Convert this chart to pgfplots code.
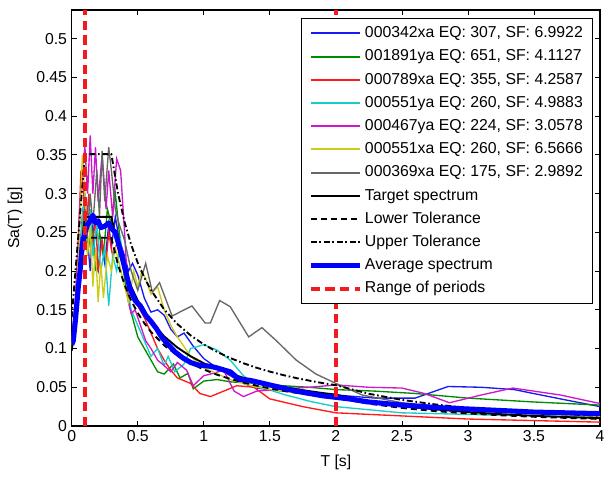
\documentclass[border=0pt]{standalone}
\usepackage{pgfplots}
\pgfplotsset{compat=1.18}
\usepackage{fontspec}
\setmainfont{Liberation Sans}
\definecolor{recblue}{rgb}{0.1,0.1,0.95}
\definecolor{recgreen}{rgb}{0,0.55,0}
\definecolor{recred}{rgb}{1,0.1,0.1}
\definecolor{reccyan}{rgb}{0.1,0.8,0.8}
\definecolor{recmag}{rgb}{0.8,0.1,0.8}
\definecolor{recyel}{rgb}{0.8,0.8,0.1}
\definecolor{recgrey}{rgb}{0.4,0.4,0.4}
\definecolor{rangered}{rgb}{0.95,0.1,0.12}
\pgfplotsset{thinrec/.style={line width=1pt,
  legend image code/.code={\draw[##1, line width=1.5pt] (0pt,0pt) -- (36.75pt,0pt);}}}
\begin{document}
\begin{tikzpicture}
\begin{axis}[
  scale only axis, width=396.2pt, height=312pt,
  xmin=0, xmax=4, ymin=0, ymax=0.537,
  xtick={0,0.5,1,1.5,2,2.5,3,3.5,4},
  ytick={0,0.05,0.1,0.15,0.2,0.25,0.3,0.35,0.4,0.45,0.5},
  /pgf/number format/.cd, fixed, precision=2, assume math mode=true, /pgfplots/.cd,
  tick label style={font=\fontsize{11.85}{14}\selectfont},
  major tick length=4pt,
  tick style={black, line width=0.6pt},
  axis line style={line width=0.8pt},
  xlabel={T [s]}, ylabel={Sa(T) [g]},
  every axis x label/.style={at={(axis description cs:0.5,-0.0865)}, anchor=center, font=\fontsize{11.85}{14}\selectfont},
  every axis y label/.style={at={(axis description cs:-0.1073,0.5)}, anchor=center, rotate=90, font=\fontsize{11.85}{14}\selectfont},
  legend image code/.code={\draw[#1] (0pt,0pt) -- (36.75pt,0pt);},
  legend cell align=left,
  legend style={at={(axis description cs:0.9867,0.9808)}, anchor=north east,
    draw=black, line width=0.6pt, fill=white, inner xsep=5.3pt, inner ysep=2.5pt,
    font=\fontsize{11.85}{14}\selectfont,
    nodes={inner xsep=2pt, inner ysep=2.95pt, text height=9pt, text depth=2.5pt},
    row sep=0pt},
]
% 000342xa
\addplot[color=recblue, thinrec] coordinates {
(0,0.108)(0.03,0.15)(0.06,0.22)(0.08,0.27)(0.1,0.3)(0.12,0.24)(0.14,0.2)(0.16,0.26)(0.18,0.21)(0.2,0.2)(0.22,0.24)(0.25,0.21)(0.28,0.26)(0.3,0.23)(0.33,0.27)(0.36,0.24)(0.4,0.22)(0.43,0.2)(0.46,0.21)(0.5,0.195)(0.55,0.165)(0.6,0.147)(0.65,0.15)(0.7,0.143)(0.75,0.125)(0.8,0.115)(0.85,0.12)(0.92,0.103)(1.0,0.087)(1.1,0.075)(1.2,0.065)(1.3,0.055)(1.4,0.049)(1.6,0.045)(1.8,0.042)(2.0,0.04)(2.3,0.036)(2.6,0.036)(2.85,0.051)(3.1,0.05)(3.35,0.047)(3.7,0.035)(4.0,0.025)};
\addlegendentry{000342xa EQ: 307, SF: 6.9922}
% 001891ya
\addplot[color=recgreen, thinrec] coordinates {
(0,0.11)(0.03,0.14)(0.06,0.2)(0.08,0.25)(0.1,0.29)(0.12,0.22)(0.15,0.26)(0.18,0.2)(0.21,0.25)(0.24,0.22)(0.27,0.28)(0.3,0.26)(0.33,0.3)(0.36,0.25)(0.4,0.19)(0.43,0.16)(0.46,0.14)(0.5,0.115)(0.55,0.1)(0.6,0.085)(0.65,0.07)(0.7,0.067)(0.77,0.08)(0.82,0.062)(0.88,0.068)(0.92,0.048)(1.0,0.058)(1.1,0.06)(1.2,0.057)(1.4,0.055)(1.6,0.052)(1.8,0.05)(2.0,0.047)(2.3,0.045)(2.6,0.042)(3.0,0.036)(3.5,0.031)(4.0,0.027)};
\addlegendentry{001891ya EQ: 651, SF: 4.1127}
% 000789xa
\addplot[color=recred, thinrec] coordinates {
(0,0.108)(0.03,0.16)(0.05,0.24)(0.07,0.33)(0.09,0.3)(0.11,0.26)(0.13,0.3)(0.15,0.22)(0.18,0.27)(0.2,0.2)(0.23,0.24)(0.26,0.21)(0.28,0.25)(0.31,0.22)(0.35,0.24)(0.4,0.2)(0.45,0.17)(0.5,0.155)(0.55,0.14)(0.6,0.12)(0.65,0.1)(0.7,0.085)(0.75,0.072)(0.8,0.062)(0.9,0.055)(0.97,0.042)(1.05,0.038)(1.15,0.045)(1.25,0.052)(1.38,0.05)(1.5,0.035)(1.75,0.025)(2.0,0.017)(2.5,0.013)(3.0,0.009)(3.5,0.007)(4.0,0.005)};
\addlegendentry{000789xa EQ: 355, SF: 4.2587}
% 000551ya
\addplot[color=reccyan, thinrec] coordinates {
(0,0.105)(0.03,0.13)(0.06,0.2)(0.08,0.27)(0.1,0.3)(0.12,0.25)(0.14,0.28)(0.16,0.22)(0.19,0.26)(0.22,0.2)(0.25,0.23)(0.28,0.155)(0.31,0.22)(0.34,0.2)(0.37,0.24)(0.4,0.2)(0.45,0.15)(0.5,0.13)(0.55,0.11)(0.6,0.09)(0.65,0.1)(0.7,0.078)(0.73,0.09)(0.78,0.07)(0.85,0.08)(0.9,0.1)(1.0,0.105)(1.1,0.098)(1.2,0.085)(1.3,0.065)(1.4,0.052)(1.6,0.041)(1.8,0.032)(2.0,0.025)(2.5,0.017)(3.0,0.015)(3.5,0.013)(4.0,0.012)};
\addlegendentry{000551ya EQ: 260, SF: 4.9883}
% 000467ya
\addplot[color=recmag, thinrec] coordinates {
(0,0.11)(0.03,0.17)(0.06,0.28)(0.08,0.33)(0.1,0.36)(0.12,0.3)(0.14,0.375)(0.16,0.3)(0.18,0.36)(0.2,0.29)(0.23,0.35)(0.26,0.28)(0.28,0.33)(0.31,0.27)(0.34,0.345)(0.37,0.33)(0.4,0.25)(0.43,0.16)(0.45,0.145)(0.48,0.15)(0.52,0.13)(0.56,0.11)(0.6,0.1)(0.65,0.085)(0.7,0.078)(0.75,0.07)(0.8,0.082)(0.87,0.072)(0.92,0.052)(1.0,0.065)(1.05,0.067)(1.15,0.072)(1.23,0.045)(1.3,0.038)(1.4,0.045)(1.6,0.048)(1.8,0.05)(2.0,0.053)(2.25,0.05)(2.5,0.049)(2.67,0.042)(2.86,0.03)(3.1,0.04)(3.34,0.049)(3.7,0.04)(4.0,0.029)};
\addlegendentry{000467ya EQ: 224, SF: 3.0578}
% 000551xa
\addplot[color=recyel, thinrec] coordinates {
(0,0.1)(0.03,0.15)(0.06,0.25)(0.08,0.35)(0.1,0.3)(0.12,0.22)(0.14,0.26)(0.16,0.18)(0.18,0.23)(0.2,0.16)(0.22,0.21)(0.24,0.165)(0.27,0.22)(0.3,0.2)(0.33,0.23)(0.36,0.21)(0.4,0.18)(0.43,0.16)(0.47,0.2)(0.5,0.18)(0.53,0.2)(0.56,0.19)(0.6,0.17)(0.65,0.18)(0.7,0.15)(0.75,0.13)(0.8,0.115)(0.9,0.09)(1.0,0.075)(1.2,0.06)(1.4,0.05)(1.6,0.045)(1.8,0.04)(2.0,0.035)(2.5,0.028)(3.0,0.02)(3.5,0.016)(4.0,0.012)};
\addlegendentry{000551xa EQ: 260, SF: 6.5666}
% 000369xa
\addplot[color=recgrey, thinrec] coordinates {
(0,0.11)(0.03,0.14)(0.06,0.2)(0.08,0.24)(0.1,0.28)(0.12,0.25)(0.14,0.3)(0.16,0.26)(0.19,0.33)(0.21,0.27)(0.23,0.355)(0.25,0.29)(0.28,0.36)(0.3,0.33)(0.33,0.28)(0.36,0.26)(0.4,0.24)(0.45,0.2)(0.5,0.175)(0.56,0.21)(0.61,0.173)(0.665,0.185)(0.76,0.142)(0.91,0.155)(1.01,0.133)(1.05,0.133)(1.12,0.162)(1.2,0.154)(1.34,0.115)(1.44,0.127)(1.55,0.11)(1.7,0.085)(1.85,0.067)(2.0,0.055)(2.2,0.04)(2.5,0.03)(3.0,0.022)(3.5,0.018)(4.0,0.015)};
\addlegendentry{000369xa EQ: 175, SF: 2.9892}
% Target
\addplot[black, line width=1.4pt] coordinates {
(0,0.108)(0.1,0.27)(0.3,0.27)(0.35,0.2314)(0.4,0.2025)(0.45,0.18)(0.5,0.162)(0.55,0.1473)(0.6,0.135)(0.7,0.1157)(0.8,0.1013)(0.9,0.09)(1.0,0.081)(1.1,0.0736)(1.2,0.0675)(1.3,0.0623)(1.4,0.0579)(1.5,0.054)(1.6,0.0506)(1.7,0.0476)(1.8,0.045)(1.9,0.0426)(2.0,0.0405)(2.25,0.032)(2.5,0.0259)(2.75,0.0214)(3.0,0.018)(3.25,0.0153)(3.5,0.0132)(3.75,0.0115)(4.0,0.0101)};
\addlegendentry{Target spectrum}
% Lower
\addplot[black, line width=1.4pt, dash pattern=on 4.5pt off 3pt] coordinates {
(0,0.0972)(0.1,0.243)(0.3,0.243)(0.35,0.2083)(0.4,0.1823)(0.45,0.162)(0.5,0.1458)(0.55,0.1326)(0.6,0.1215)(0.7,0.1041)(0.8,0.0911)(0.9,0.081)(1.0,0.0729)(1.1,0.0662)(1.2,0.0608)(1.3,0.0561)(1.4,0.0521)(1.5,0.0486)(1.6,0.0455)(1.7,0.0429)(1.8,0.0405)(1.9,0.0384)(2.0,0.0365)(2.25,0.0288)(2.5,0.0233)(2.75,0.0193)(3.0,0.0162)(3.25,0.0138)(3.5,0.0119)(3.75,0.0104)(4.0,0.0091)};
\addlegendentry{Lower Tolerance}
% Upper
\addplot[black, line width=1.4pt, dash pattern=on 4.5pt off 2pt on 1.2pt off 2pt] coordinates {
(0,0.1404)(0.1,0.351)(0.3,0.351)(0.35,0.3008)(0.4,0.2633)(0.45,0.234)(0.5,0.2106)(0.55,0.1915)(0.6,0.1755)(0.7,0.1504)(0.8,0.1316)(0.9,0.117)(1.0,0.1053)(1.1,0.0957)(1.2,0.0878)(1.3,0.081)(1.4,0.0752)(1.5,0.0702)(1.6,0.0658)(1.7,0.0619)(1.8,0.0585)(1.9,0.0554)(2.0,0.0527)(2.25,0.0416)(2.5,0.0337)(2.75,0.0279)(3.0,0.0234)(3.25,0.0199)(3.5,0.0172)(3.75,0.015)(4.0,0.0132)};
\addlegendentry{Upper Tolerance}
% Average
\addplot[blue, line width=3.8pt, line join=round] coordinates {
(0,0.105)(0.012,0.11)(0.03,0.14)(0.05,0.18)(0.063,0.2)(0.08,0.235)(0.1,0.25)(0.12,0.26)(0.14,0.265)(0.16,0.272)(0.18,0.262)(0.2,0.265)(0.22,0.256)(0.25,0.258)(0.28,0.262)(0.3,0.255)(0.33,0.25)(0.36,0.232)(0.4,0.205)(0.44,0.178)(0.48,0.162)(0.52,0.155)(0.56,0.143)(0.6,0.135)(0.64,0.126)(0.68,0.115)(0.72,0.107)(0.78,0.096)(0.84,0.088)(0.9,0.082)(0.95,0.079)(1.05,0.077)(1.1,0.075)(1.2,0.07)(1.27,0.06)(1.35,0.059)(1.45,0.055)(1.6,0.049)(1.7,0.045)(1.8,0.042)(1.9,0.039)(2.0,0.037)(2.1,0.035)(2.25,0.031)(2.5,0.027)(2.75,0.024)(3.0,0.022)(3.25,0.02)(3.5,0.018)(3.75,0.017)(4.0,0.016)};
\addlegendentry{Average spectrum}
% Range of periods
\addplot[color=rangered, line width=3pt, dash pattern=on 7pt off 4pt] coordinates {(0.1,0) (0.1,0.537)};
\addlegendentry{Range of periods}
\addplot[color=rangered, line width=3pt, dash pattern=on 7pt off 4pt, forget plot] coordinates {(2,0) (2,0.537)};
\end{axis}
\pgfresetboundingbox
\path ([shift={(-53.8pt,-42pt)}]current axis.south west) rectangle ([shift={(11.25pt,7.5pt)}]current axis.north east);
\end{tikzpicture}
\end{document}
